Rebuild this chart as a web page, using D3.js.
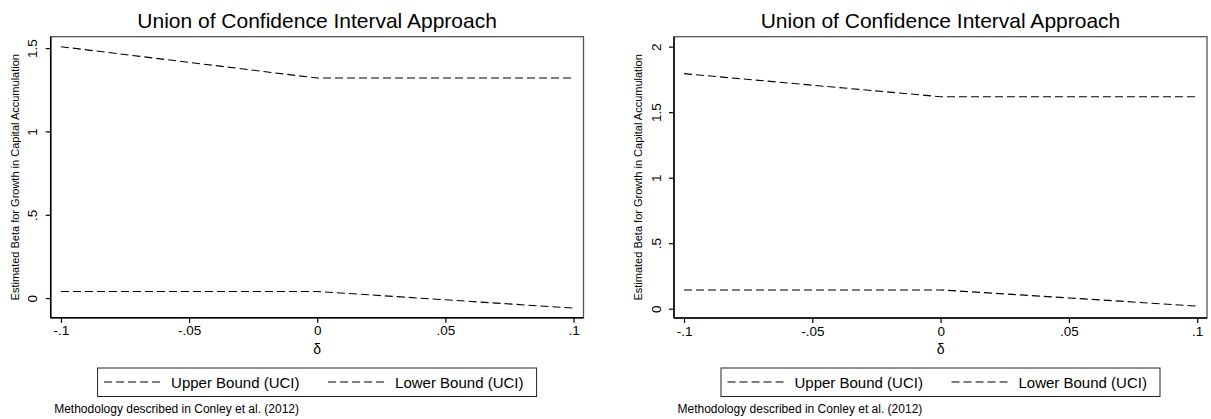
<!DOCTYPE html>
<html><head><meta charset="utf-8">
<script src="https://cdn.jsdelivr.net/npm/d3@7"></script>
<style>body{margin:0;background:#fff}svg{display:block;font-family:"Liberation Sans",Arial,sans-serif}</style>
</head><body>
<script>
const deltas = [-0.1, -0.05, 0, 0.05, 0.1];
const xTickValues = [-0.1, -0.05, 0, 0.05, 0.1];
const xTickLabels = ["-.1", "-.05", "0", ".05", ".1"];
const leftUpper = [1.508, 1.414, 1.320, 1.320, 1.320];
const leftLower = [0.040, 0.040, 0.040, -0.010, -0.060];
const rightUpper = [1.794, 1.706, 1.618, 1.618, 1.618];
const rightLower = [0.143, 0.143, 0.143, 0.082, 0.020];
const leftYTicks = [0, 0.5, 1, 1.5];
const leftYLabels = ["0", ".5", "1", "1.5"];
const rightYTicks = [0, 0.5, 1, 1.5, 2];
const rightYLabels = ["0", ".5", "1", "1.5", "2"];
const titleText = "Union of Confidence Interval Approach";
const yTitle = "Estimated Beta for Growth in Capital Accumulation";
const xTitle = "δ";
const seriesNames = ["Upper Bound (UCI)", "Lower Bound (UCI)"];
const note = "Methodology described in Conley et al. (2012)";

const W = 1211, H = 419;
const svg = d3.select("body").append("svg").attr("width", W).attr("height", H);

function panel(cfg) {
  const g = svg.append("g");
  const x = d3.scaleLinear().domain(cfg.xDomain).range([cfg.left, cfg.right]);
  const y = d3.scaleLinear().domain(cfg.yDomain).range([cfg.bottom, cfg.top]);
  const cx = (cfg.left + cfg.right) / 2;
  g.append("rect").attr("x", cfg.left).attr("y", cfg.top)
    .attr("width", cfg.right - cfg.left).attr("height", cfg.bottom - cfg.top)
    .attr("fill", "none").attr("stroke", "#555").attr("stroke-width", 1.3);
  const ax = d3.axisBottom(x).tickValues(xTickValues).tickSize(5).tickPadding(3)
    .tickFormat((d, i) => xTickLabels[i]);
  const xg = g.append("g").attr("transform", `translate(0,${cfg.bottom})`).call(ax);
  xg.select(".domain").remove();
  xg.append("line").attr("x1", cfg.left).attr("x2", cfg.right).attr("stroke", "#000").attr("stroke-width", 1.5);
  xg.selectAll(".tick line").attr("stroke", "#000").attr("stroke-width", 1.2);
  xg.selectAll(".tick text").attr("font-size", 13.5).attr("fill", "#000")
    .attr("font-family", "Liberation Sans, Arial, sans-serif");
  const ay = d3.axisLeft(y).tickValues(cfg.yTicks).tickSize(5).tickPadding(0)
    .tickFormat((d, i) => cfg.yLabels[i]);
  const yg = g.append("g").attr("transform", `translate(${cfg.left},0)`).call(ay);
  yg.select(".domain").remove();
  yg.append("line").attr("y1", cfg.top).attr("y2", cfg.bottom).attr("stroke", "#000").attr("stroke-width", 1.5);
  yg.selectAll(".tick line").attr("stroke", "#000").attr("stroke-width", 1.2);
  yg.selectAll(".tick text").attr("font-size", 13.5).attr("fill", "#000")
    .attr("font-family", "Liberation Sans, Arial, sans-serif")
    .attr("x", null).attr("dy", null)
    .attr("text-anchor", "middle")
    .attr("transform", "translate(-13.5,0) rotate(-90)");
  const line = d3.line().x((d, i) => x(deltas[i])).y(d => y(d));
  [cfg.upper, cfg.lower].forEach(s => {
    g.append("path").datum(s).attr("d", line).attr("fill", "none")
      .attr("stroke", "#000").attr("stroke-width", 1.1).attr("stroke-dasharray", "8,4");
  });
  g.append("text").attr("x", cx).attr("y", 27.5).attr("text-anchor", "middle")
    .attr("font-size", 21).text(titleText);
  g.append("text").attr("transform", `translate(${cfg.left - 32},${(cfg.top + cfg.bottom) / 2}) rotate(-90)`)
    .attr("text-anchor", "middle").attr("font-size", 11).text(yTitle);
  g.append("text").attr("x", x(0)).attr("y", 354).attr("text-anchor", "middle")
    .attr("font-size", 14).text(xTitle);
  const lx0 = cx - 219.5, lx1 = cx + 219.5;
  g.append("rect").attr("x", lx0).attr("y", 368).attr("width", lx1 - lx0).attr("height", 28.5)
    .attr("fill", "none").attr("stroke", "#222").attr("stroke-width", 1);
  const items = [{x: lx0 + 6.5}, {x: lx0 + 230.5}];
  items.forEach((it, i) => {
    g.append("line").attr("x1", it.x).attr("x2", it.x + 58).attr("y1", 382).attr("y2", 382)
      .attr("stroke", "#000").attr("stroke-width", 1.1).attr("stroke-dasharray", "8,4");
    g.append("text").attr("x", it.x + 67).attr("y", 388).attr("font-size", 15).text(seriesNames[i]);
  });
  g.append("text").attr("x", cfg.left + 3.5).attr("y", 413).attr("font-size", 12).text(note);
}

panel({left: 50.7, right: 583.5, top: 36.7, bottom: 317.8,
  xDomain: [-0.104, 0.1039], yDomain: [-0.118, 1.568],
  yTicks: leftYTicks, yLabels: leftYLabels, upper: leftUpper, lower: leftLower});
panel({left: 674, right: 1207, top: 36.7, bottom: 318,
  xDomain: [-0.1039, 0.1038], yDomain: [-0.071, 2.076],
  yTicks: rightYTicks, yLabels: rightYLabels, upper: rightUpper, lower: rightLower});
</script>
</body></html>
